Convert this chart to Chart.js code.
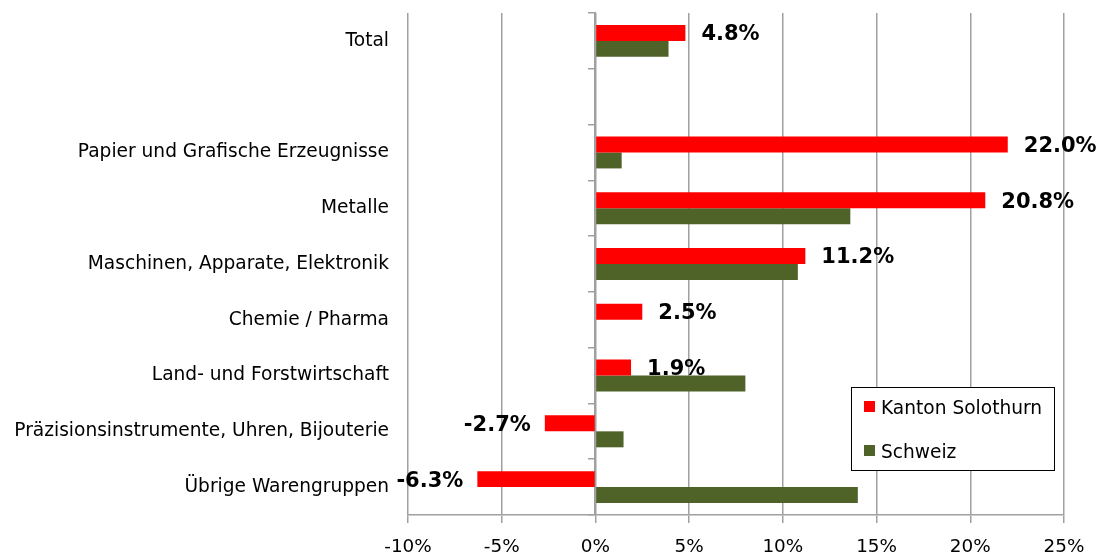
<!DOCTYPE html>
<html>
<head>
<meta charset="utf-8">
<script src="https://cdn.jsdelivr.net/npm/chart.js@4.4.1/dist/chart.umd.min.js"></script>
<style>
    html, body { margin: 0; padding: 0; background: #fff; }
</style>
</head>
<body>
<canvas id="exportChart" width="1100" height="555"></canvas>
<script>
// Chart data
const categories = [
    'Total',
    '',
    'Papier und Grafische Erzeugnisse',
    'Metalle',
    'Maschinen, Apparate, Elektronik',
    'Chemie / Pharma',
    'Land- und Forstwirtschaft',
    'Präzisionsinstrumente, Uhren, Bijouterie',
    'Übrige Warengruppen'
];
const seriesNames = ['Kanton Solothurn', 'Schweiz'];
const solothurnValues = [4.8, null, 22.0, 20.8, 11.2, 2.5, 1.9, -2.7, -6.3];
const schweizValues = [3.9, null, 1.4, 13.6, 10.8, null, 8.0, 1.5, 14.0];
const xTicks = [-10, -5, 0, 5, 10, 15, 20, 25];

const FONT = '"DejaVu Sans", Verdana, sans-serif';
const GRID = '#a0a0a0';

// Value labels next to the red bars
const barLabels = {
    id: 'barLabels',
    afterDatasetsDraw(chart) {
        const ctx = chart.ctx;
        const meta = chart.getDatasetMeta(0);
        ctx.save();
        ctx.font = 'bold 21px ' + FONT;
        ctx.fillStyle = '#000';
        ctx.textBaseline = 'middle';
        meta.data.forEach((bar, i) => {
            const v = solothurnValues[i];
            if (v === null) return;
            const neg = v < 0;
            ctx.textAlign = neg ? 'right' : 'left';
            ctx.fillText(v.toFixed(1) + '%', bar.x + (neg ? -14 : 16), bar.y + 2);
        });
        ctx.restore();
    }
};

// Boxed legend inside the plot, bottom right
const boxLegend = {
    id: 'boxLegend',
    afterDraw(chart) {
        const { ctx, chartArea } = chart;
        const w = 203, h = 83;
        const x = Math.round(chartArea.right - 10 - w);
        const y = Math.round(chartArea.bottom - 45 - h);
        ctx.save();
        ctx.fillStyle = '#fff';
        ctx.fillRect(x, y, w, h);
        ctx.strokeStyle = '#000';
        ctx.lineWidth = 1;
        ctx.strokeRect(x + 0.5, y + 0.5, w, h);
        ctx.font = '18.6px ' + FONT;
        ctx.textAlign = 'left';
        ctx.textBaseline = 'middle';
        chart.data.datasets.forEach((ds, i) => {
            const cy = y + 20 + i * 44;
            ctx.fillStyle = ds.backgroundColor;
            ctx.fillRect(x + 13, cy - 6, 11, 11);
            ctx.fillStyle = '#000';
            ctx.fillText(ds.label, x + 30, cy + 2);
        });
        ctx.restore();
    }
};

new Chart(document.getElementById('exportChart'), {
    type: 'bar',
    data: {
        labels: categories,
        datasets: [{
            label: seriesNames[0],
            data: solothurnValues,
            backgroundColor: '#ff0000',
            barPercentage: 1,
            categoryPercentage: 0.573
        }, {
            label: seriesNames[1],
            data: schweizValues,
            backgroundColor: '#4f6228',
            barPercentage: 1,
            categoryPercentage: 0.573
        }]
    },
    options: {
        indexAxis: 'y',
        responsive: false,
        animation: false,
        devicePixelRatio: 1,
        layout: {
            padding: { left: 0, top: 13, right: 36, bottom: 0 }
        },
        plugins: {
            legend: { display: false },
            tooltip: { enabled: false }
        },
        scales: {
            x: {
                min: -10,
                max: 25,
                afterBuildTicks: scale => {
                    scale.ticks = xTicks.map(v => ({ value: v }));
                },
                afterFit: scale => {
                    scale.height = 40;
                    scale.paddingLeft = 0;
                    scale.paddingRight = 0;
                },
                grid: {
                    color: GRID,
                    lineWidth: 1.5,
                    tickLength: 8
                },
                border: { display: true, color: GRID, width: 1.5 },
                ticks: {
                    color: '#000',
                    padding: 13,
                    font: { family: FONT, size: 18.4 },
                    callback: v => v + '%'
                }
            },
            y: {
                position: 'left',
                afterFit: scale => {
                    scale.width = 408;
                    scale.paddingTop = 0;
                    scale.paddingBottom = 0;
                },
                grid: { display: false, drawTicks: false },
                border: { display: false },
                ticks: {
                    color: '#000',
                    padding: 19,
                    autoSkip: false,
                    font: { family: FONT, size: 18.6 }
                }
            },
            // zero axis with small tick marks between categories
            y2: {
                type: 'category',
                axis: 'y',
                position: { x: 0 },
                offset: true,
                grid: {
                    offset: true,
                    drawOnChartArea: false,
                    tickLength: 6,
                    color: GRID,
                    lineWidth: 1.5
                },
                border: { display: true, color: GRID, width: 2 },
                ticks: { display: false }
            }
        }
    },
    plugins: [barLabels, boxLegend]
});
</script>
</body>
</html>
